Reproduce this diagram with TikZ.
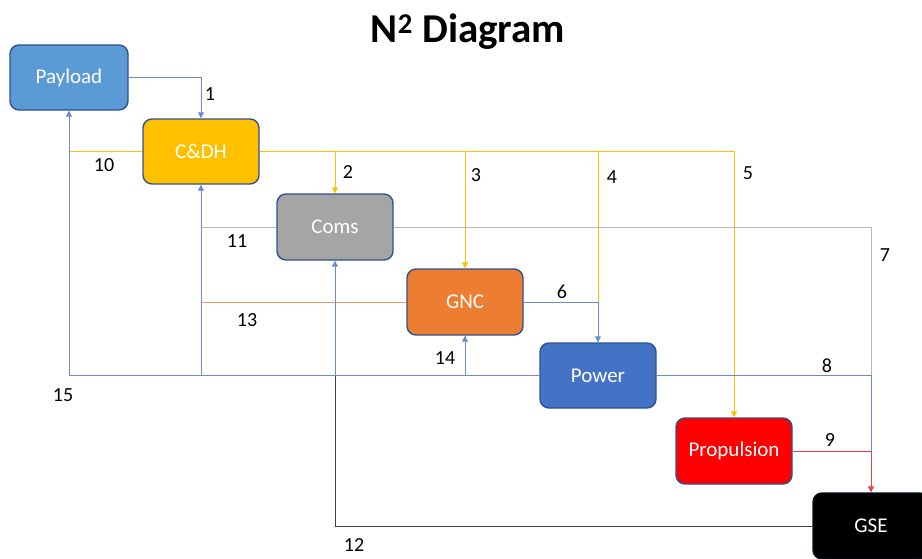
\documentclass[tikz,border=0pt]{standalone}
\usepackage{fontspec}
\setmainfont{Carlito}
\usetikzlibrary{arrows.meta}
\definecolor{cyel}{HTML}{FFC000}
\definecolor{cblue}{HTML}{4472C4}
\definecolor{clblue}{HTML}{5B9BD5}
\definecolor{cgray}{HTML}{A5A5A5}
\definecolor{corange}{HTML}{ED7D31}
\definecolor{cred}{HTML}{FF0000}
\definecolor{cborder}{HTML}{2F528F}
\definecolor{lblue}{HTML}{6A8CCC}
\definecolor{lgray}{HTML}{B8B8B8}
\definecolor{lorange}{HTML}{F09A68}
\definecolor{lred}{HTML}{E84040}
\tikzset{
  blockbox/.style={draw=cborder, line width=1.4pt, rounded corners=9pt, minimum width=116pt, minimum height=65pt, text=white, font=\fontsize{21}{24}\selectfont, inner sep=0pt},
  conn/.style={line width=1pt},
  tip/.style={-{Triangle[width=6pt,length=6pt]}},
  numlbl/.style={font=\fontsize{20}{22}\selectfont, text=black, inner sep=0pt}
}
\begin{document}
\begin{tikzpicture}[x=1pt,y=-1pt]
\useasboundingbox (0,0) rectangle (922,558);
\node[font=\bfseries\fontsize{41}{46}\selectfont] (title) at (468,32) {N\textsuperscript{2} Diagram};

\node[blockbox, fill=clblue, minimum width=118pt] (pay) at (69,77.5) {Payload};
\node[blockbox, fill=cyel] (cdh) at (201,151.5) {C\&DH};
\node[blockbox, fill=cgray, minimum height=66pt] (coms) at (335,227) {Coms};
\node[blockbox, fill=corange, minimum height=66pt] (gnc) at (465,302) {GNC};
\node[blockbox, fill=cblue] (pow) at (598,375.5) {Power};
\node[blockbox, fill=cred, minimum height=66pt] (prop) at (734,451) {Propulsion};
\node[blockbox, fill=black, draw=black!80!cborder, minimum height=66pt] (gse) at (871,526) {GSE};

% 1
\draw[conn, lblue, tip] (pay.east) -| (cdh.north);
% 10
\draw[conn, cyel] (cdh.west) -- (pay.south |- cdh.west);
% yellow bus 2,3,4,5
\draw[conn, cyel, tip] (cdh.east) -- (prop.north |- cdh.east) -- (prop.north);
\draw[conn, cyel, tip] (coms.north |- cdh.east) -- (coms.north);
\draw[conn, cyel, tip] (gnc.north |- cdh.east) -- (gnc.north);
\draw[conn, cyel] (pow.north |- cdh.east) -- (pow.north |- gnc.east);
% 6
\draw[conn, lblue] (gnc.east) -- (pow.north |- gnc.east);
\draw[conn, lblue, tip] (pow.north |- gnc.east) -- (pow.north);
% 11
\draw[conn, lgray] (coms.west) -- (cdh.south |- coms.west);
% 13
\draw[conn, lorange] (gnc.west) -- (cdh.south |- gnc.west);
% 12
\draw[conn, black!75] (gse.west) -- (coms.south |- gse.west) -- (coms.south |- pow.west);
% power bus 14,15
\draw[conn, lblue, tip] (pow.west) -- (pay.south |- pow.west) -- (pay.south);
\draw[conn, lblue, tip] (cdh.south |- pow.west) -- (cdh.south);
\draw[conn, lblue, tip] (coms.south |- pow.west) -- (coms.south);
\draw[conn, lblue, tip] (gnc.south |- pow.west) -- (gnc.south);
% 7
\draw[conn, lgray] (coms.east) -- (gse.north |- coms.east) -- (gse.north |- pow.east);
% 8
\draw[conn, lblue] (pow.east) -- (gse.north |- pow.east) -- (gse.north |- prop.east);
% 9
\draw[conn, lred, tip] (prop.east) -- (gse.north |- prop.east) -- (gse.north);

% labels
\node[numlbl] (l1) at (210,94) {1};
\node[numlbl] (l2) at (348,172) {2};
\node[numlbl] (l3) at (476,175) {3};
\node[numlbl] (l4) at (612,177) {4};
\node[numlbl] (l5) at (748,173) {5};
\node[numlbl] (l6) at (562,292) {6};
\node[numlbl] (l7) at (885,255) {7};
\node[numlbl] (l8) at (827,366) {8};
\node[numlbl] (l9) at (830,440) {9};
\node[numlbl] (l10) at (104,165) {10};
\node[numlbl] (l11) at (237,241) {11};
\node[numlbl] (l12) at (354,545) {12};
\node[numlbl] (l13) at (247,320) {13};
\node[numlbl] (l14) at (445,358) {14};
\node[numlbl] (l15) at (63,395) {15};
\end{tikzpicture}
\end{document}
